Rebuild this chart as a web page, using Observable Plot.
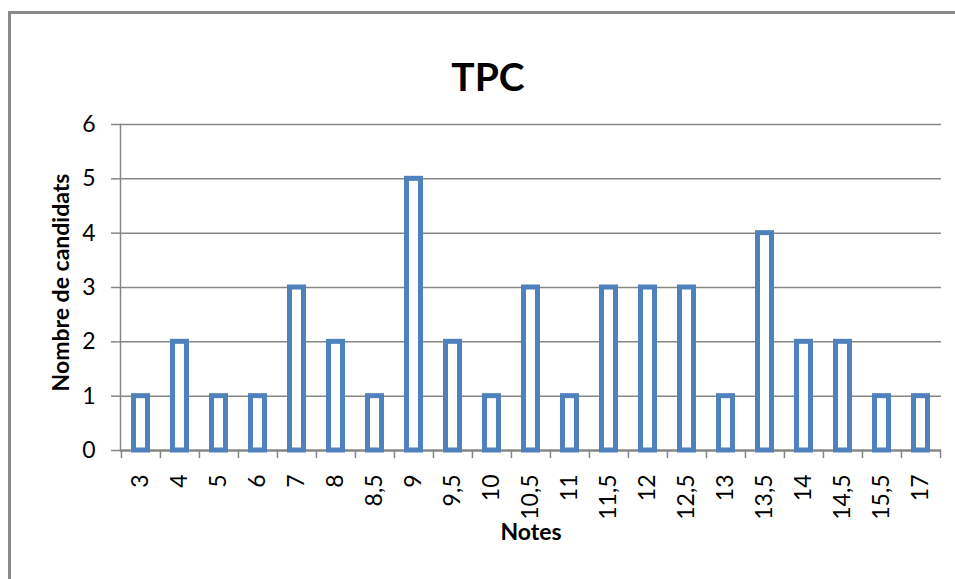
<!DOCTYPE html>
<html>
<head>
<meta charset="utf-8">
<script src="https://cdn.jsdelivr.net/npm/d3@7"></script>
<script src="https://cdn.jsdelivr.net/npm/@observablehq/plot@0.6"></script>
<style>
  html, body { margin: 0; padding: 0; background: #fff; overflow: hidden; }
  #wrap { position: relative; width: 955px; height: 579px; }
  #border { position: absolute; left: 8px; top: 11px; width: 1000px; height: 700px;
            border-left: 3px solid #8a8a8a; border-top: 3px solid #8a8a8a; pointer-events: none; }
  #chart { position: absolute; left: 0; top: 0; }
</style>
</head>
<body>
<div id="wrap"><div id="chart"></div><div id="border"></div></div>
<script>
const title = "TPC";
const xLabel = "Notes";
const yLabel = "Nombre de candidats";
const notes = ["3","4","5","6","7","8","8,5","9","9,5","10","10,5","11","11,5","12","12,5","13","13,5","14","14,5","15,5","17"];
const counts = [1,2,1,1,3,2,1,5,2,1,3,1,3,3,3,1,4,2,2,1,1];
const yTicks = [0,1,2,3,4,5,6];

const data = notes.map((n, i) => ({note: n, count: counts[i]}));

const W = 955, H = 579;
const mL = 120, mR = 14, mT = 124, mB = 129;
const bw = (W - mL - mR) / notes.length;
const font = "Lato, 'Open Sans', sans-serif";

const chart = Plot.plot({
  width: W, height: H,
  marginLeft: mL, marginRight: mR, marginTop: mT, marginBottom: mB,
  style: {fontFamily: font, background: "transparent", color: "black"},
  x: {type: "band", domain: notes, padding: 0},
  y: {domain: [0, 6]},
  marks: [
    Plot.ruleY(yTicks.filter(d => d > 0), {stroke: "#868686", strokeWidth: 1.5}),
    Plot.axisY({ticks: yTicks, tickFormat: d3.format("d"), tickSize: 9, tickPadding: 16, fontSize: 23, stroke: "#868686", strokeWidth: 1.5, fill: "black", label: null}),
    Plot.axisX({tickSize: 0, tickPadding: 24, tickRotate: -90, fontSize: 23, fill: "black", label: null}),
    Plot.frame({anchor: "left", stroke: "#868686", strokeWidth: 1.5}),
    Plot.ruleX(notes, {x: d => d, dx: -bw / 2, y1: 0, y2: -0.15, stroke: "#868686", strokeWidth: 1.5}),
    Plot.ruleX([notes[notes.length - 1]], {x: d => d, dx: bw / 2, y1: 0, y2: -0.15, stroke: "#868686", strokeWidth: 1.5}),
    Plot.ruleY([0], {stroke: "#868686", strokeWidth: 2.5}),
    Plot.barY(data, {x: "note", y: "count", fill: "white", stroke: "#4F81BD", strokeWidth: 5, insetLeft: 12.5, insetRight: 12.5}),
    Plot.text([title], {frameAnchor: "top", dx: -43, dy: -61, fontSize: 39, fontWeight: "bold", fill: "black"}),
    Plot.text([xLabel], {frameAnchor: "bottom", dy: 89, fontSize: 23, fontWeight: "bold", fill: "black"}),
    Plot.text([yLabel], {frameAnchor: "left", textAnchor: "middle", dx: -59, dy: -5, rotate: -90, fontSize: 23, fontWeight: "bold", fill: "black"})
  ]
});
document.getElementById("chart").appendChild(chart);
</script>
</body>
</html>
